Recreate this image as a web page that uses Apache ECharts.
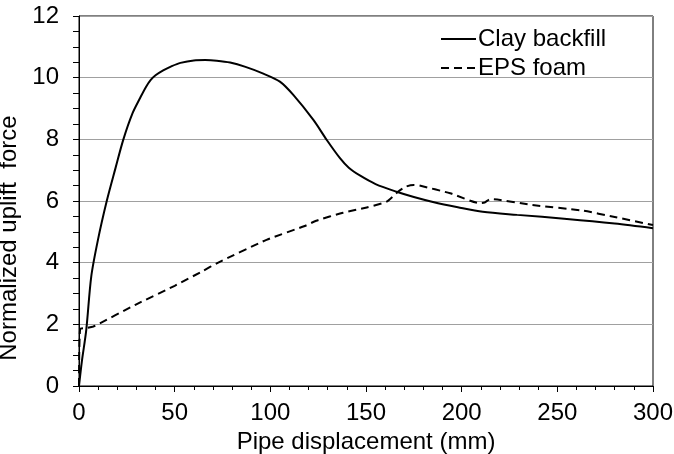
<!DOCTYPE html>
<html>
<head>
<meta charset="utf-8">
<script src="https://cdn.jsdelivr.net/npm/echarts@6/dist/echarts.min.js"></script>
<style>
  html, body { margin: 0; padding: 0; background: #fff; }
  #chart { width: 674px; height: 454px; }
</style>
</head>
<body>
<div id="chart"></div>
<script>
// values
var clayX = [0, 1.5, 3.8, 6.4, 9.9, 14.5, 19, 23.2, 28, 32, 35, 37.5, 40, 44, 48, 53, 60, 66, 72, 79, 87, 96, 105, 112, 122.5, 129.5, 136.4, 141, 147, 155, 166, 175, 185, 198, 211, 229, 255, 280, 300];
var clayY = [0, 0.8, 1.82, 3.55, 4.74, 6.0, 7.05, 8.0, 8.85, 9.35, 9.7, 9.93, 10.08, 10.24, 10.36, 10.48, 10.56, 10.57, 10.55, 10.49, 10.35, 10.14, 9.87, 9.44, 8.63, 7.98, 7.39, 7.08, 6.82, 6.55, 6.3, 6.13, 5.97, 5.8, 5.65, 5.55, 5.42, 5.27, 5.12];

var epsX = [0, 0.6, 3.5, 7.5, 30, 50, 65, 72, 98, 118, 124, 138, 150.4, 160.8, 166.7, 171, 175, 178, 194, 209.6, 212, 214.8, 237, 263, 280, 300];
var epsY = [0, 1.85, 1.88, 1.93, 2.65, 3.25, 3.74, 3.98, 4.74, 5.19, 5.36, 5.62, 5.79, 5.98, 6.3, 6.47, 6.52, 6.5, 6.25, 5.93, 5.95, 6.06, 5.87, 5.69, 5.48, 5.22];

var seriesNames = ['Clay backfill', 'EPS foam'];

function zip(xs, ys) {
  return xs.map(function (x, i) { return [x, ys[i]]; });
}

var font = 'Liberation Sans, Arial, sans-serif';
var myChart = echarts.init(document.getElementById('chart'));

var option = {
  animation: false,
  backgroundColor: '#fff',
  grid: {
    left: 79,
    right: 21,
    top: 16,
    bottom: 68,
    containLabel: false,
    outerBoundsMode: 'none',
    show: true,
    borderColor: '#000',
    borderWidth: 1
  },
  legend: {
    orient: 'vertical',
    left: 440,
    top: 27,
    padding: 0,
    itemWidth: 35,
    itemHeight: 14,
    itemGap: 5,
    itemStyle: { opacity: 0 },
    textStyle: { fontFamily: font, fontSize: 24, color: '#000', padding: [0, 0, 0, -3] },
    data: seriesNames
  },
  xAxis: {
    type: 'value',
    min: 0,
    max: 300,
    interval: 50,
    name: 'Pipe displacement (mm)',
    nameLocation: 'middle',
    nameGap: 39,
    nameTextStyle: { fontFamily: font, fontSize: 24, color: '#000' },
    axisLine: { lineStyle: { color: '#000', width: 1 } },
    axisTick: { show: true, inside: false, length: 6, lineStyle: { color: '#000' } },
    minorTick: { show: true, splitNumber: 5, length: 4, lineStyle: { color: '#000' } },
    axisLabel: { fontFamily: font, fontSize: 24, color: '#000', margin: 15 },
    splitLine: { show: false }
  },
  yAxis: {
    type: 'value',
    min: 0,
    max: 12,
    interval: 2,
    name: 'Normalized uplift  force',
    nameLocation: 'middle',
    nameGap: 48,
    nameTextStyle: { fontFamily: font, fontSize: 24, color: '#000', padding: [0, 74, 0, 0] },
    axisLine: { show: true, lineStyle: { color: '#000', width: 1 } },
    axisTick: { show: true, inside: false, length: 6, lineStyle: { color: '#000' } },
    minorTick: { show: true, splitNumber: 4, length: 6, lineStyle: { color: '#000' } },
    axisLabel: { fontFamily: font, fontSize: 24, color: '#000', margin: 20 },
    splitLine: { show: true, lineStyle: { color: '#a0a0a0', width: 1 } }
  },
  series: [
    {
      name: seriesNames[0],
      type: 'line',
      data: zip(clayX, clayY),
      showSymbol: false,
      symbol: 'none',
      smooth: 0.3,
      color: '#000',
      lineStyle: { color: '#000', width: 2 }
    },
    {
      name: seriesNames[1],
      type: 'line',
      data: zip(epsX, epsY),
      showSymbol: false,
      symbol: 'none',
      smooth: 0.2,
      color: '#000',
      lineStyle: { color: '#000', width: 2, type: [8, 5] }
    }
  ]
};

myChart.setOption(option);
</script>
</body>
</html>
